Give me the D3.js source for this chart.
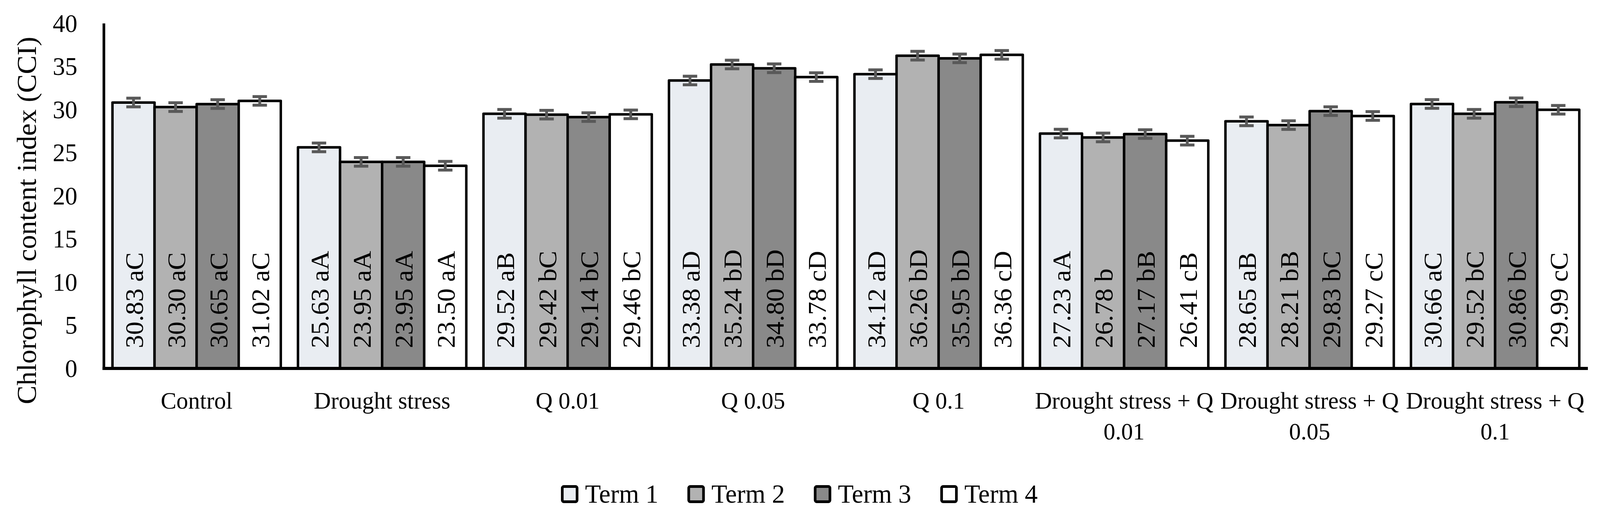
<!DOCTYPE html>
<html>
<head>
<meta charset="utf-8">
<script src="https://cdn.jsdelivr.net/npm/d3@7"></script>
<style>
  html, body { margin: 0; padding: 0; background: #ffffff; overflow: hidden; width: 100%; height: 100%; }
  svg { display: block; position: fixed; left: 0; top: 0; width: 100vw; height: 100vh; }
  text { font-family: "Liberation Serif", "Times New Roman", serif; fill: #000; }
</style>
</head>
<body>
<svg id="chart" viewBox="0 0 4220 1340" preserveAspectRatio="none"></svg>
<script>
// ---------------- DATA ----------------
const categories = ["Control", "Drought stress", "Q 0.01", "Q 0.05", "Q 0.1",
  "Drought stress + Q 0.01", "Drought stress + Q 0.05", "Drought stress + Q 0.1"];
const terms = ["Term 1", "Term 2", "Term 3", "Term 4"];

const term1 = [30.83, 25.63, 29.52, 33.38, 34.12, 27.23, 28.65, 30.66];
const term2 = [30.30, 23.95, 29.42, 35.24, 36.26, 26.78, 28.21, 29.52];
const term3 = [30.65, 23.95, 29.14, 34.80, 35.95, 27.17, 29.83, 30.86];
const term4 = [31.02, 23.50, 29.46, 33.78, 36.36, 26.41, 29.27, 29.99];

const letters1 = ["aC", "aA", "aB", "aD", "aD", "aA", "aB", "aC"];
const letters2 = ["aC", "aA", "bC", "bD", "bD", "b", "bB", "bC"];
const letters3 = ["aC", "aA", "bC", "bD", "bD", "bB", "bC", "bC"];
const letters4 = ["aC", "aA", "bC", "cD", "cD", "cB", "cC", "cC"];

const err1 = [0.5, 0.5, 0.5, 0.5, 0.5, 0.5, 0.5, 0.5];
const err2 = [0.5, 0.5, 0.5, 0.5, 0.5, 0.5, 0.5, 0.5];
const err3 = [0.5, 0.5, 0.5, 0.5, 0.5, 0.5, 0.5, 0.5];
const err4 = [0.5, 0.5, 0.5, 0.5, 0.5, 0.5, 0.5, 0.5];

const yTicks = [0, 5, 10, 15, 20, 25, 30, 35, 40];
const yTitle = "Chlorophyll content index (CCI)";

// ---------------- BUILD ----------------
(function () {
const seriesValues = [term1, term2, term3, term4];
const seriesLetters = [letters1, letters2, letters3, letters4];
const seriesErr = [err1, err2, err3, err4];
const colors = ["#E9EDF2", "#B2B2B2", "#898989", "#FFFFFF"];

const rows = [];
categories.forEach((c, i) => {
  terms.forEach((t, j) => {
    rows.push({ cat: c, term: t, value: seriesValues[j][i], letter: seriesLetters[j][i], err: seriesErr[j][i], j });
  });
});

const svg = d3.select("#chart");
const pLeft = 274, pRight = 4188, pTop = 60, pBottom = 944;

const x0 = d3.scaleBand().domain(categories).range([pLeft, pRight]).paddingInner(0.0925).paddingOuter(0.04625);
const x1 = d3.scaleBand().domain(terms).range([0, x0.bandwidth()]).padding(0);
const y = d3.scaleLinear().domain([0, 40]).range([pBottom, pTop]);
const color = d3.scaleOrdinal().domain(terms).range(colors);

// bars
svg.append("g").selectAll("rect.bar").data(rows).join("rect")
  .attr("class", "bar")
  .attr("x", d => x0(d.cat) + x1(d.term))
  .attr("y", d => y(d.value))
  .attr("width", x1.bandwidth())
  .attr("height", d => y(0) - y(d.value))
  .attr("fill", d => color(d.term))
  .attr("stroke", "#000")
  .attr("stroke-width", 6.5)
  .attr("stroke-linejoin", "round");

// error bars
const eb = svg.append("g").attr("stroke", "#595959").attr("stroke-width", 7.5);
rows.forEach(d => {
  const cx = x0(d.cat) + x1(d.term) + x1.bandwidth() / 2;
  eb.append("line").attr("x1", cx).attr("x2", cx).attr("y1", y(d.value + d.err)).attr("y2", y(d.value - d.err));
  eb.append("line").attr("x1", cx - 19).attr("x2", cx + 19).attr("y1", y(d.value + d.err)).attr("y2", y(d.value + d.err));
  eb.append("line").attr("x1", cx - 19).attr("x2", cx + 19).attr("y1", y(d.value - d.err)).attr("y2", y(d.value - d.err));
});

// data labels (rotated, inside base)
const labelSize = 68;
svg.append("g").selectAll("text").data(rows).join("text")
  .attr("transform", d => {
    const cx = x0(d.cat) + x1(d.term) + x1.bandwidth() / 2;
    return `translate(${cx + 25},${892}) rotate(-90)`;
  })
  .attr("font-size", labelSize)
  .attr("text-anchor", "start")
  .text(d => d.value.toFixed(2) + " " + d.letter);

// axes lines
svg.append("line").attr("x1", pLeft).attr("x2", pLeft).attr("y1", y(40)).attr("y2", pBottom + 4)
  .attr("stroke", "#000").attr("stroke-width", 7);
svg.append("line").attr("x1", pLeft - 3.5).attr("x2", pRight).attr("y1", pBottom).attr("y2", pBottom)
  .attr("stroke", "#000").attr("stroke-width", 8);

// y tick labels
const yAxis = d3.axisLeft(y).tickValues(yTicks).tickSize(0).tickPadding(70);
const ya = svg.append("g").attr("transform", `translate(${pLeft},0)`).call(yAxis);
ya.select(".domain").remove();
ya.selectAll("text").attr("font-size", 65).attr("font-family", "Liberation Serif").attr("fill", "#000").attr("dy", "0.33em");

// y title
svg.append("text")
  .attr("transform", `translate(95,565) rotate(-90)`)
  .attr("text-anchor", "middle")
  .attr("font-size", 72)
  .text(yTitle);

// category labels with wrapping
const catSize = 62;
const catG = svg.append("g");
categories.forEach(c => {
  const cx = x0(c) + x0.bandwidth() / 2;
  const t = catG.append("text").attr("x", cx).attr("y", 1047).attr("text-anchor", "middle").attr("font-size", catSize);
  const words = c.split(" ");
  let line = [];
  const lines = [];
  const probe = catG.append("text").attr("font-size", catSize).attr("visibility", "hidden");
  words.forEach(w => {
    const test = line.concat([w]).join(" ");
    probe.text(test);
    if (probe.node().getComputedTextLength() > x0.step() && line.length) {
      lines.push(line.join(" "));
      line = [w];
    } else {
      line.push(w);
    }
  });
  lines.push(line.join(" "));
  probe.remove();
  lines.forEach((l, k) => {
    t.append("tspan").attr("x", cx).attr("y", 1047 + k * 79).text(l);
  });
});

// legend
const legSize = 68;
const legG = svg.append("g");
const items = terms.map((t, j) => {
  const it = legG.append("g");
  it.append("rect").attr("x", 0).attr("y", -19.5).attr("width", 39).attr("height", 39)
    .attr("rx", 4).attr("fill", colors[j]).attr("stroke", "#000").attr("stroke-width", 7);
  const tx = it.append("text").attr("x", 60).attr("y", 22).attr("font-size", legSize).text(t);
  const w = 60 + tx.node().getComputedTextLength();
  return { it, w };
});
const gap = 80;
const total = d3.sum(items, d => d.w) + gap * (items.length - 1);
let cur = 2110 - total / 2;
items.forEach(d => {
  d.it.attr("transform", `translate(${cur},1266)`);
  cur += d.w + gap;
});
})();
</script>
</body>
</html>
